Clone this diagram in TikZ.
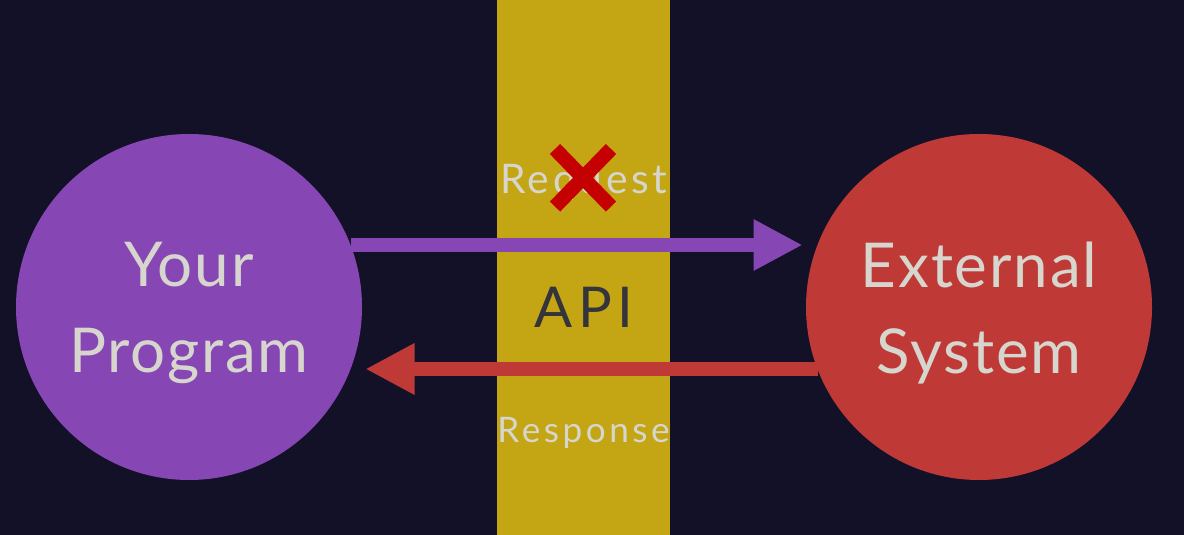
\documentclass[tikz,border=0pt]{standalone}
\usepackage{fontspec}
\setmainfont{Lato}
\usetikzlibrary{arrows.meta}

\definecolor{night}{HTML}{121128}
\definecolor{mustard}{HTML}{C4A513}
\definecolor{grape}{HTML}{8646B3}
\definecolor{brick}{HTML}{BF3A36}
\definecolor{label}{HTML}{D6D6CE}
\definecolor{ink}{HTML}{34343C}
\definecolor{cross}{HTML}{C40000}

\begin{document}
\begin{tikzpicture}
      \tikzstyle{ball}=[circle,minimum size=8.65cm,inner sep=0pt,outer sep=0pt]
      \tikzstyle{word}=[text=label,inner sep=0pt,align=center]
      \tikzstyle{big}=[font=\fontsize{44}{61}\selectfont\addfontfeatures{LetterSpace=3}]
      \tikzstyle{flow}=[line width=0.33cm,
        -{Triangle[length=1.23cm,width=1.2cm]},shorten >=0.37cm]

      \fill[night] (0,0) rectangle (29.6,13.375);
      \useasboundingbox (0,0) rectangle (29.6,13.375);
      \fill[mustard] (12.425,0) rectangle (16.75,13.375);

      \node[ball,fill=grape] (prog) at (4.725,5.7)  {};
      \node[ball,fill=brick] (ext)  at (24.475,5.7) {};
      \node[word,big] (progname) at (4.725,5.55)  {Your\\Program};
      \node[word,big] (extname)  at (24.475,5.55) {External\\System};

      \node[word,font=\fontsize{29}{34}\selectfont\addfontfeatures{LetterSpace=9}]
           (req)  at (14.59,8.82)  {Request};
      \node[word,text=ink,font=\fontsize{40}{48}\selectfont\addfontfeatures{LetterSpace=10}]
           (api) at (14.6,5.68) {API};
      \node[word,font=\fontsize{25}{30}\selectfont\addfontfeatures{LetterSpace=10}]
           (resp) at (14.59,2.55)  {Response};

      \coordinate (no) at (14.575,8.93);
      \draw[cross,line width=0.36cm] ([shift={(-0.7,-0.72)}]no) -- ([shift={(0.7,0.72)}]no);
      \draw[cross,line width=0.36cm] ([shift={(-0.7,0.72)}]no) -- ([shift={(0.7,-0.72)}]no);

      \draw[flow,grape] (prog.21) -- (ext.159);
      \draw[flow,brick] (ext.-159) -- (prog.-21);

\end{tikzpicture}
\end{document}
